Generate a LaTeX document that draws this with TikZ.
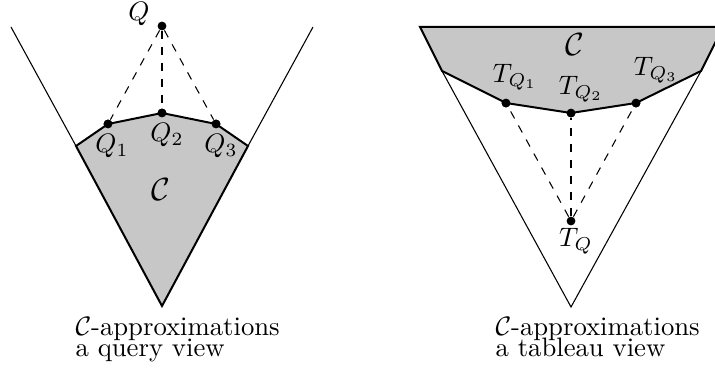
\documentclass[tikz,border=0pt]{standalone}
\begin{document}
\begin{tikzpicture}[x=0.01317cm,y=-0.01317cm,
  thinline/.style={line width=0.4pt},
  bound/.style={line width=0.75pt},
  region/.style={fill=black!22},
  dot/.style={circle,fill=black,inner sep=0pt,minimum size=3.3pt},
  conn/.style={dashed,line width=0.4pt},
  lab/.style={inner sep=0pt},
  biglab/.style={inner sep=0pt,font=\large},
  captext/.style={inner sep=0pt,anchor=base west},
  capfirst/.style={captext,text depth=0pt}]
\useasboundingbox (0,0) rectangle (715,374);
% ---- left: query view
\coordinate (la) at (162,306);
\coordinate (ll) at (76,146);
\coordinate (lr) at (248,146);
\coordinate (lltop) at (11,27);
\coordinate (lrtop) at (313,27);
\node[dot] (Q1) at (108,124) {};
\node[dot] (Q2) at (162,113) {};
\node[dot] (Q3) at (216,124) {};
\node[dot] (Q) at (162,26) {};
\fill[region] (ll) -- (Q1.center) -- (Q2.center) -- (Q3.center) -- (lr) -- (la) -- cycle;
\draw[bound] (ll) -- (Q1.center) -- (Q2.center) -- (Q3.center) -- (lr) -- (la) -- cycle;
\draw[thinline] (lltop) -- (ll);
\draw[thinline] (lrtop) -- (lr);
\node[dot] at (Q1) {};
\node[dot] at (Q2) {};
\node[dot] at (Q3) {};
\draw[conn] (Q) -- (Q1);
\draw[conn] (Q) -- (Q2);
\draw[conn] (Q) -- (Q3);
\node[lab] (lQ) at (139,14) {$Q$};
\node[lab] (lQ1) at (112,146) {$Q_1$};
\node[lab] (lQ2) at (167,135) {$Q_2$};
\node[lab] (lQ3) at (221,146) {$Q_3$};
\node[biglab] (lC) at (161,190) {$\mathcal{C}$};
\node[capfirst] (capl1) at (75,335) {$\mathcal{C}$-approximations};
\node[captext] (capl2) at (75,356) {a query view};
% ---- right: tableau view
\coordinate (ra) at (571,307);
\coordinate (rl) at (442,71);
\coordinate (rr) at (701,71);
\coordinate (rltop) at (420,27);
\coordinate (rrtop) at (723,27);
\node[dot] (T1) at (506,103) {};
\node[dot] (T2) at (571,113) {};
\node[dot] (T3) at (636,103) {};
\node[dot] (T) at (571,221) {};
\fill[region] (rltop) -- (rl) -- (T1.center) -- (T2.center) -- (T3.center) -- (rr) -- (rrtop) -- cycle;
\draw[bound] (rltop) -- (rl) -- (T1.center) -- (T2.center) -- (T3.center) -- (rr) -- (rrtop) -- cycle;
\draw[thinline] (rl) -- (ra) -- (rr);
\node[dot] at (T1) {};
\node[dot] at (T2) {};
\node[dot] at (T3) {};
\draw[conn] (T) -- (T1);
\draw[conn] (T) -- (T2);
\draw[conn] (T) -- (T3);
\node[lab] (lT1) at (515,77) {$T_{Q_1}$};
\node[lab] (lT2) at (581,89) {$T_{Q_2}$};
\node[lab] (lT3) at (656,70) {$T_{Q_3}$};
\node[lab] (lT) at (576,241) {$T_Q$};
\node[biglab] (lC2) at (575,45) {$\mathcal{C}$};
\node[capfirst] (capr1) at (495,335) {$\mathcal{C}$-approximations};
\node[captext] (capr2) at (495,356) {a tableau view};
\end{tikzpicture}
\end{document}
